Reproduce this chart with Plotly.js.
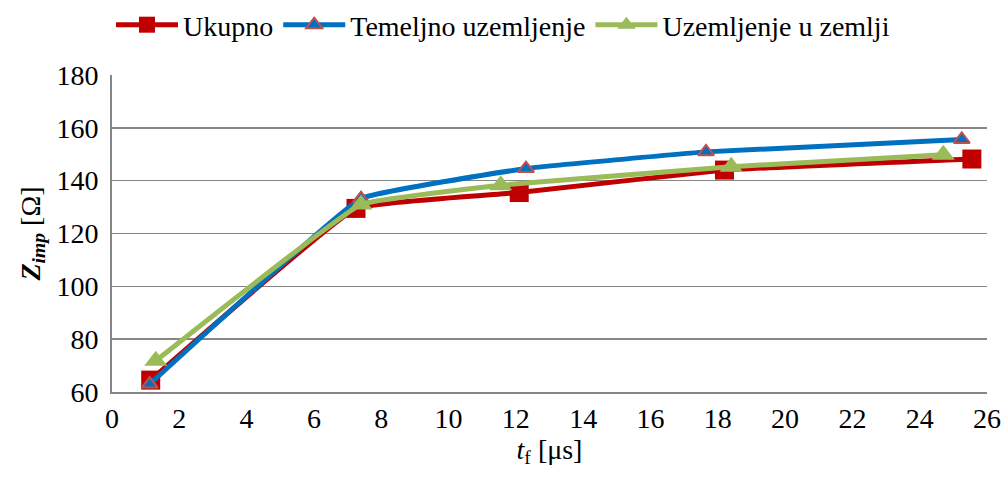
<!DOCTYPE html>
<html>
<head>
<meta charset="utf-8">
<script src="https://cdn.plot.ly/plotly-3.0.1.min.js"></script>
<style>html,body{margin:0;padding:0;background:#fff;}#chart{width:1006px;height:483px;}</style>
</head>
<body>
<div id="chart"></div>
<script>
const seriesNames = ["Ukupno", "Temeljno uzemljenje", "Uzemljenje u zemlji"];
const ukupnoX = [1.15, 7.25, 12.1, 18.2, 25.55];
const ukupnoY = [64.5, 129.5, 135.5, 144, 148.2];
const temeljnoX = [1.12, 7.4, 12.3, 17.65, 25.25];
const temeljnoY = [63, 133.2, 144.6, 150.9, 155.6];
const zemljaX = [1.3, 7.4, 11.55, 18.4, 24.7];
const zemljaY = [71.8, 131, 138.3, 145.3, 149.8];
const xTicks = [0,2,4,6,8,10,12,14,16,18,20,22,24,26];
const yTicks = [60,80,100,120,140,160,180];

const font = "Liberation Serif";
const traces = [
  {x: ukupnoX, y: ukupnoY, name: seriesNames[0], mode: "lines+markers",
   line: {color: "#C00000", width: 5, shape: "spline", smoothing: 0.25},
   marker: {symbol: "square", size: 19, color: "#C00000"}},
  {x: temeljnoX, y: temeljnoY, name: seriesNames[1], mode: "lines+markers",
   line: {color: "#0070C0", width: 5, shape: "spline", smoothing: 0.25},
   marker: {symbol: "triangle-up", size: 14, color: "#0070C0", line: {color: "#C0504D", width: 2}}},
  {x: zemljaX, y: zemljaY, name: seriesNames[2], mode: "lines+markers",
   line: {color: "#9BBB59", width: 5, shape: "spline", smoothing: 0.25},
   marker: {symbol: "triangle-up", size: 20, color: "#9BBB59"}}
];
const layout = {
  width: 1006, height: 483,
  margin: {l: 112, r: 19, t: 75, b: 91},
  paper_bgcolor: "#fff", plot_bgcolor: "#fff",
  font: {family: font, size: 28, color: "#000"},
  showlegend: true,
  legend: {orientation: "h", x: 0.5, xanchor: "center", y: 1, yanchor: "top",
           yref: "container", xref: "container", font: {family: font, size: 28, color: "#000"},
           itemwidth: 62, tracegroupgap: 0, bgcolor: "rgba(0,0,0,0)"},
  xaxis: {range: [0, 26], tickvals: xTicks, ticktext: xTicks.map(String),
          showgrid: false, zeroline: false, showline: true, linecolor: "#868686", linewidth: 2,
          ticks: "", tickfont: {family: font, size: 28},
          title: {text: "<i>t</i><sub>f</sub> [μs]", font: {family: font, size: 28}, standoff: 4}},
  yaxis: {range: [60, 180], tickvals: yTicks, ticktext: yTicks.map(String),
          showgrid: true, gridcolor: "#868686", gridwidth: 1.5, zeroline: false,
          showline: true, linecolor: "#868686", linewidth: 2, ticks: "",
          tickfont: {family: font, size: 28}, ticklabelstandoff: 6,
          title: {text: "<b><i>Z</i></b><sub><b><i>imp</i></b></sub> [Ω]", font: {family: font, size: 28}, standoff: 8}}
};
Plotly.newPlot("chart", traces, layout, {displayModeBar: false, staticPlot: true});
</script>
</body>
</html>
